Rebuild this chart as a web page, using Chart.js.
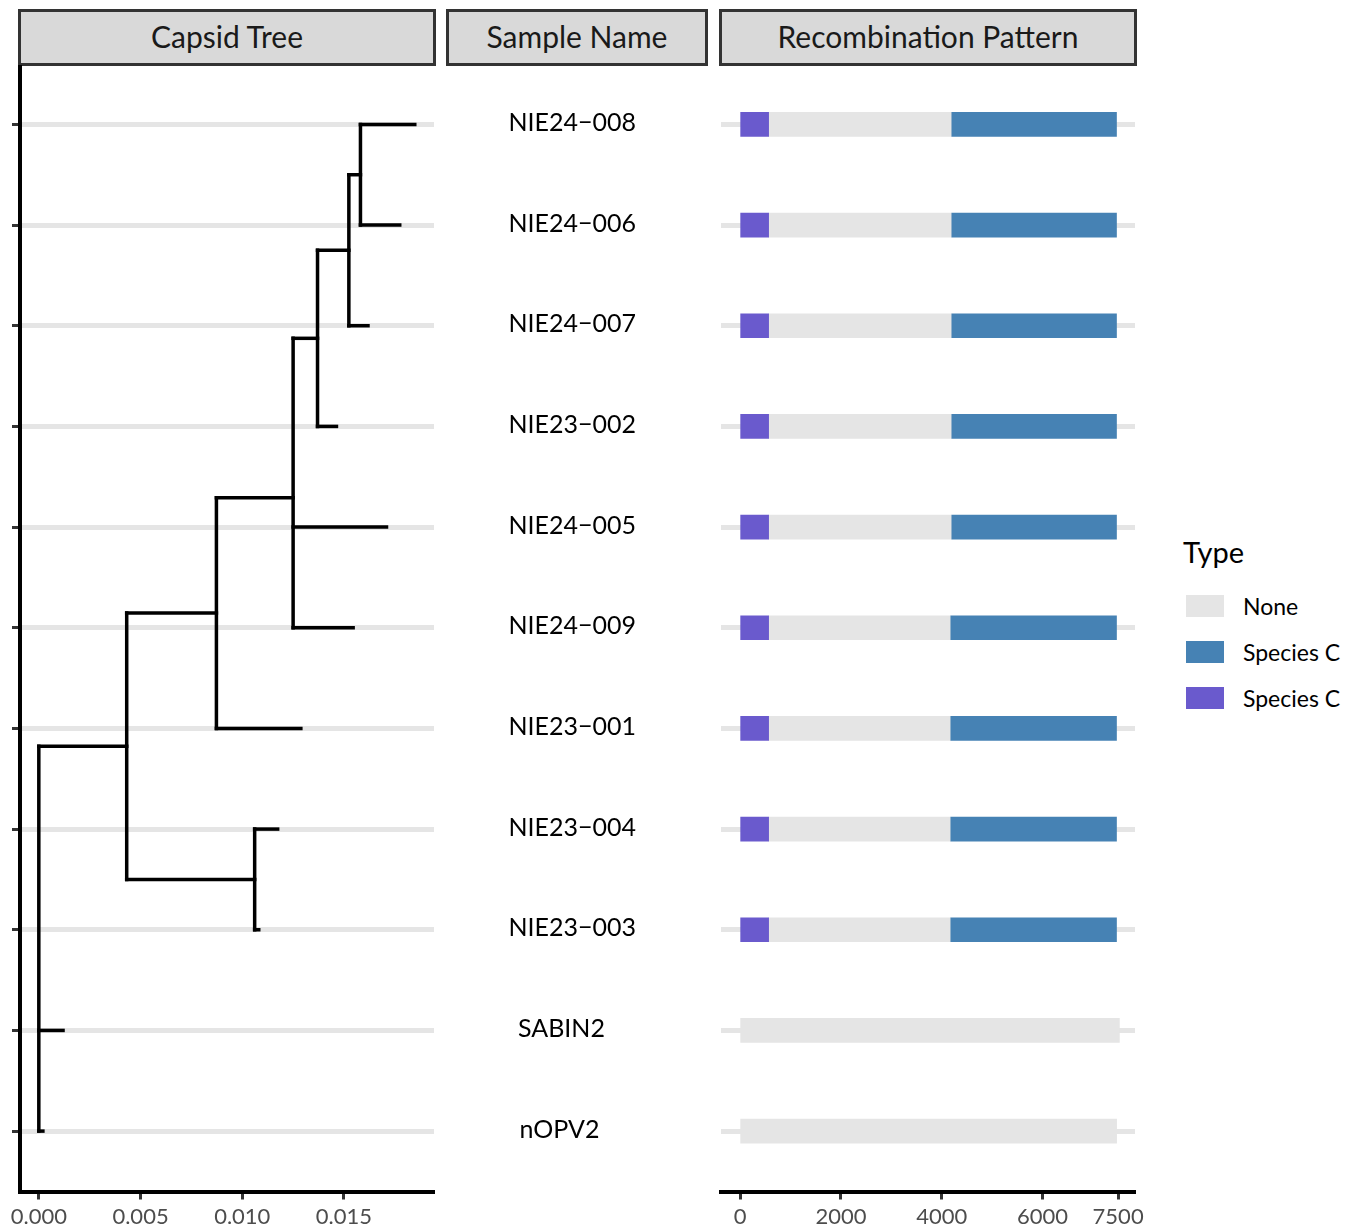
<!DOCTYPE html>
<html>
<head>
<meta charset="utf-8">
<title>Capsid tree / recombination pattern</title>
<script src="https://cdn.jsdelivr.net/npm/chart.js@4.4.1/dist/chart.umd.min.js"></script>
<style>
  body { margin: 0; background: #fff; font-family: Lato, "Open Sans", sans-serif; }
  #wrap { position: relative; width: 1361px; height: 1231px; overflow: hidden; background: #fff; }
  .strip { position: absolute; top: 9px; height: 57px; box-sizing: border-box; border: 3px solid #333;
           background: #d9d9d9; color: #1a1a1a; font-size: 30px; text-align: center; line-height: 49px; }
  canvas { position: absolute; top: 65px; }
  #legend { position: absolute; left: 0; top: 0; }
  .ltitle { position: absolute; left: 1183px; top: 537px; font-size: 29px; line-height: 29px; color: #000; white-space: nowrap; }
  .lkey { position: absolute; left: 1186px; width: 38px; height: 22px; }
  .llab { position: absolute; left: 1243px; font-size: 23px; line-height: 22px; color: #000; white-space: nowrap; }
</style>
</head>
<body>
<div id="wrap">
  <div class="strip" style="left:18px;width:418px">Capsid Tree</div>
  <div class="strip" style="left:446px;width:262px">Sample Name</div>
  <div class="strip" style="left:719px;width:418px">Recombination Pattern</div>
  <canvas id="tree" width="440" height="1166" style="left:0px"></canvas>
  <canvas id="names" width="280" height="1166" style="left:440px"></canvas>
  <canvas id="recomb" width="461" height="1166" style="left:700px"></canvas>
  <div id="legend"></div>
</div>
<script>
// rows, top to bottom
var sampleNames = ['NIE24−008', 'NIE24−006', 'NIE24−007', 'NIE23−002', 'NIE24−005', 'NIE24−009',
                   'NIE23−001', 'NIE23−004', 'NIE23−003', 'SABIN2', 'nOPV2'];

// capsid tree: tip distances + parent, internal nodes
var tipDist   = [0.01848, 0.01774, 0.01618, 0.01463, 0.01709, 0.01545, 0.01288, 0.01174, 0.01081, 0.00119, 0.00020];
var tipParent = ['n7', 'n7', 'n6', 'n5', 'n4', 'n4', 'n3', 'n8', 'n8', 'n1', 'n1'];
var nodeIds    = ['n1', 'n2', 'n3', 'n4', 'n5', 'n6', 'n7', 'n8'];
var nodeDist   = [0, 0.00432, 0.00873, 0.01250, 0.01370, 0.01524, 0.01581, 0.01061];
var nodeParent = [null, 'n1', 'n2', 'n3', 'n4', 'n5', 'n6', 'n2'];
var treeTicks  = [0, 0.005, 0.010, 0.015];

// recombination segments (genome position), null = no segment
var typeNames  = ['None', 'Species C', 'Species C'];
var typeColors = ['#e5e5e5', '#4682b4', '#6a5acd'];
var noneStart  = [565, 565, 565, 565, 565, 565, 565, 565, 565, 0, 0];
var noneEnd    = [4200, 4200, 4200, 4200, 4200, 4180, 4180, 4180, 4180, 7525, 7470];
var blueStart  = [4200, 4200, 4200, 4200, 4200, 4180, 4180, 4180, 4180, null, null];
var blueEnd    = [7468, 7468, 7468, 7468, 7468, 7468, 7468, 7468, 7468, null, null];
var purpleStart = [0, 0, 0, 0, 0, 0, 0, 0, 0, null, null];
var purpleEnd   = [565, 565, 565, 565, 565, 565, 565, 565, 565, null, null];
var genomeTicks = [0, 2000, 4000, 6000, 7500];

Chart.defaults.font.family = 'Lato, "Open Sans", sans-serif';
Chart.defaults.animation = false;

var rowTicks = function(scale) {
  scale.ticks = sampleNames.map(function(n, i) { return { value: i + 1 }; });
};
var rowScale = function(extra) {
  var s = { type: 'linear', reverse: true, min: 0.41, max: 11.6, afterBuildTicks: rowTicks };
  for (var k in extra) s[k] = extra[k];
  return s;
};

// ---- tree segments
var nodeIdx = function(id) { return nodeIds.indexOf(id); };
var childYs = function(id) {
  var ys = [];
  tipParent.forEach(function(p, i) { if (p === id) ys.push(i + 1); });
  nodeParent.forEach(function(p, i) { if (p === id) ys.push(nodeY(nodeIds[i])); });
  return ys;
};
var nodeY = function(id) {
  var ys = childYs(id);
  return ys.reduce(function(a, b) { return a + b; }, 0) / ys.length;
};

var segs = [];
tipDist.forEach(function(d, i) {
  var px = nodeDist[nodeIdx(tipParent[i])];
  segs.push([{ x: px, y: i + 1 }, { x: d, y: i + 1 }]);
});
nodeIds.forEach(function(id, i) {
  var ys = childYs(id);
  segs.push([{ x: nodeDist[i], y: Math.min.apply(null, ys) }, { x: nodeDist[i], y: Math.max.apply(null, ys) }]);
  if (nodeParent[i]) {
    var y = nodeY(id);
    segs.push([{ x: nodeDist[nodeIdx(nodeParent[i])], y: y }, { x: nodeDist[i], y: y }]);
  }
});

var tickFont = { size: 22 };

new Chart(document.getElementById('tree'), {
  type: 'scatter',
  data: {
    datasets: segs.map(function(s) {
      return { data: s, showLine: true, borderColor: '#000', borderWidth: 3.5,
               borderCapStyle: 'square', pointRadius: 0, clip: false };
    })
  },
  options: {
    responsive: false,
    layout: { padding: { left: 0, right: 6, top: 0, bottom: 0 } },
    plugins: { legend: { display: false }, tooltip: { enabled: false } },
    scales: {
      x: {
        type: 'linear', min: -0.000925, max: 0.019425,
        afterBuildTicks: function(scale) { scale.ticks = treeTicks.map(function(v) { return { value: v }; }); },
        afterFit: function(scale) { scale.height = 39.5; },
        grid: { display: true, drawOnChartArea: false, drawTicks: true, tickColor: '#333', tickLength: 8, tickWidth: 3 },
        border: { display: true, color: '#000', width: 4 },
        ticks: { color: '#4d4d4d', font: tickFont, padding: 4, maxRotation: 0,
                 callback: function(v) { return Number(v).toFixed(3); } }
      },
      y: rowScale({
        afterFit: function(scale) { scale.width = 20; },
        grid: { color: '#e5e5e5', lineWidth: 5, drawTicks: true, tickColor: '#333', tickLength: 8, tickWidth: 3 },
        border: { display: true, color: '#000', width: 4 },
        ticks: { display: false }
      })
    }
  }
});

// ---- sample names
new Chart(document.getElementById('names'), {
  type: 'scatter',
  data: { datasets: [{ data: sampleNames.map(function(n, i) { return { x: 0, y: i + 1 }; }), pointRadius: 0 }] },
  options: {
    responsive: false,
    layout: { padding: { left: 0, right: 0, top: 0, bottom: 39.5 } },
    plugins: { legend: { display: false }, tooltip: { enabled: false } },
    scales: {
      x: { display: false, min: 0, max: 1 },
      y: rowScale({ display: false })
    }
  },
  plugins: [{
    id: 'nameText',
    afterDatasetsDraw: function(chart) {
      var ctx = chart.ctx, ys = chart.scales.y;
      ctx.save();
      ctx.font = '25px Lato, "Open Sans", sans-serif';
      ctx.fillStyle = '#000';
      ctx.textAlign = 'left';
      ctx.textBaseline = 'alphabetic';
      sampleNames.forEach(function(n, i) {
        var w = ctx.measureText(n).width;
        ctx.fillText(n, 98.4 - 0.235 * w, ys.getPixelForValue(i + 1) + 6.5);
      });
      ctx.restore();
    }
  }]
});

// ---- recombination bars
var barSet = function(starts, ends, color) {
  var pts = [];
  starts.forEach(function(s, i) {
    if (s !== null && ends[i] !== null) pts.push({ y: i + 1, x: [s, ends[i]] });
  });
  return { data: pts, backgroundColor: color, borderWidth: 0, barThickness: 24, grouped: false };
};

new Chart(document.getElementById('recomb'), {
  type: 'bar',
  data: {
    datasets: [
      barSet(purpleStart, purpleEnd, typeColors[2]),
      barSet(blueStart, blueEnd, typeColors[1]),
      barSet(noneStart, noneEnd, typeColors[0])
    ]
  },
  options: {
    indexAxis: 'y',
    responsive: false,
    layout: { padding: { left: 21, right: 26, top: 0, bottom: 0 } },
    plugins: { legend: { display: false }, tooltip: { enabled: false } },
    scales: {
      x: {
        type: 'linear', min: -380, max: 7835,
        afterBuildTicks: function(scale) { scale.ticks = genomeTicks.map(function(v) { return { value: v }; }); },
        afterFit: function(scale) { scale.height = 39.5; },
        grid: { display: true, drawOnChartArea: false, drawTicks: true, tickColor: '#333', tickLength: 8, tickWidth: 3 },
        border: { display: true, color: '#000', width: 4 },
        ticks: { color: '#4d4d4d', font: tickFont, padding: 4, maxRotation: 0,
                 callback: function(v) { return String(v); } }
      },
      y: rowScale({
        offset: false,
        afterFit: function(scale) { scale.width = 0; },
        grid: { offset: false, color: '#e5e5e5', lineWidth: 5, drawTicks: false },
        border: { display: false },
        ticks: { display: false }
      })
    }
  }
});

// ---- legend
var lg = document.getElementById('legend');
var t = document.createElement('div');
t.className = 'ltitle';
t.textContent = 'Type';
lg.appendChild(t);
typeNames.forEach(function(name, i) {
  var k = document.createElement('div');
  k.className = 'lkey';
  k.style.top = (595 + i * 46) + 'px';
  k.style.background = typeColors[i];
  lg.appendChild(k);
  var l = document.createElement('div');
  l.className = 'llab';
  l.style.top = (595 + i * 46) + 'px';
  l.textContent = name;
  lg.appendChild(l);
});
</script>
</body>
</html>
